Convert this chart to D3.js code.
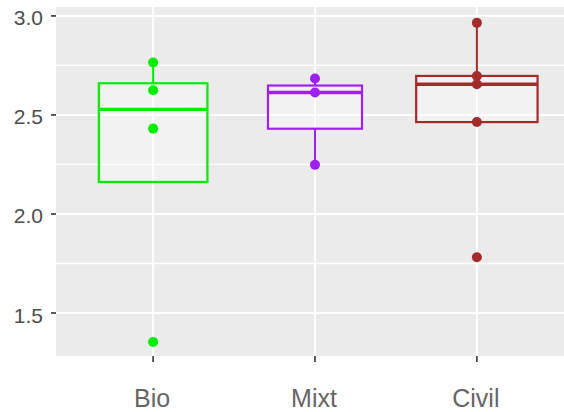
<!DOCTYPE html>
<html><head><meta charset="utf-8">
<script src="https://cdn.jsdelivr.net/npm/d3@7"></script>
<style>body{margin:0;background:#fff}svg{display:block}</style>
</head><body>
<svg id="c" width="564" height="412"></svg>
<script>
const categories = ["Bio", "Mixt", "Civil"];
const bioValues = [2.765, 2.625, 2.431, 1.354];
const mixtValues = [2.684, 2.613, 2.248];
const civilValues = [2.965, 2.697, 2.655, 2.464, 1.782];
const seriesColors = ["#00EE00", "#A020F0", "#A52A2A"];
const yTicks = [1.5, 2.0, 2.5, 3.0];
const yMinorTicks = [1.75, 2.25, 2.75];

const groups = [bioValues, mixtValues, civilValues];
const svg = d3.select("#c");
const panel = {left: 56, right: 574, top: 7, bottom: 356};

const x = d3.scalePoint().domain(categories).range([panel.left, panel.right]).padding(0.6);
const y = d3.scaleLinear().domain([1.283, 3.045]).range([panel.bottom, panel.top]);
const step = x.step();

svg.append("rect").attr("x", panel.left).attr("y", panel.top)
  .attr("width", panel.right - panel.left).attr("height", panel.bottom - panel.top)
  .attr("fill", "#EBEBEB");

const g = svg.append("g");
g.selectAll(".minor").data(yMinorTicks).join("line")
  .attr("x1", panel.left).attr("x2", panel.right)
  .attr("y1", d => y(d)).attr("y2", d => y(d))
  .attr("stroke", "#fff").attr("stroke-width", 1.3);
g.selectAll(".major").data(yTicks).join("line")
  .attr("x1", panel.left).attr("x2", panel.right)
  .attr("y1", d => y(d)).attr("y2", d => y(d))
  .attr("stroke", "#fff").attr("stroke-width", 2);
g.selectAll(".vmajor").data(categories).join("line")
  .attr("x1", d => x(d)).attr("x2", d => x(d))
  .attr("y1", panel.top).attr("y2", panel.bottom)
  .attr("stroke", "#fff").attr("stroke-width", 2);

const maxN = d3.max(groups, d => d.length);
categories.forEach((cat, i) => {
  const vals = groups[i].slice().sort(d3.ascending);
  const q1 = d3.quantile(vals, 0.25), med = d3.quantile(vals, 0.5), q3 = d3.quantile(vals, 0.75);
  const iqr = q3 - q1;
  const inside = vals.filter(v => v >= q1 - 1.5 * iqr && v <= q3 + 1.5 * iqr);
  const wLo = Math.min(d3.min(inside), q1), wHi = Math.max(d3.max(inside), q3);
  const cx = x(cat);
  const w = 0.75 * step * Math.sqrt(vals.length / maxN);
  const col = seriesColors[i];
  const bg = svg.append("g");
  bg.append("line").attr("x1", cx).attr("x2", cx).attr("y1", y(q3)).attr("y2", y(wHi))
    .attr("stroke", col).attr("stroke-width", 2);
  bg.append("line").attr("x1", cx).attr("x2", cx).attr("y1", y(q1)).attr("y2", y(wLo))
    .attr("stroke", col).attr("stroke-width", 2);
  bg.append("rect").attr("x", cx - w / 2).attr("y", y(q3)).attr("width", w).attr("height", y(q1) - y(q3))
    .attr("fill", "#fff").attr("fill-opacity", 0.35).attr("stroke", col).attr("stroke-width", 2.2);
  bg.append("line").attr("x1", cx - w / 2).attr("x2", cx + w / 2).attr("y1", y(med)).attr("y2", y(med))
    .attr("stroke", col).attr("stroke-width", 3.4);
  bg.selectAll("circle").data(vals).join("circle")
    .attr("cx", cx).attr("cy", d => y(d)).attr("r", 5).attr("fill", col);
});

// axes
const font = "'Liberation Sans', Arial, sans-serif";
const ya = svg.append("g");
ya.selectAll("line").data(yTicks).join("line")
  .attr("x1", panel.left - 5).attr("x2", panel.left)
  .attr("y1", d => y(d)).attr("y2", d => y(d))
  .attr("stroke", "#333").attr("stroke-width", 1.6);
ya.selectAll("text").data(yTicks).join("text")
  .attr("x", panel.left - 13).attr("y", d => y(d) + 2)
  .attr("text-anchor", "end").attr("dominant-baseline", "central")
  .attr("font-family", font).attr("font-size", 21).attr("fill", "#4D4D4D")
  .text(d => d3.format(".1f")(d));

const xa = svg.append("g");
xa.selectAll("line").data(categories).join("line")
  .attr("x1", d => x(d)).attr("x2", d => x(d))
  .attr("y1", panel.bottom).attr("y2", panel.bottom + 6)
  .attr("stroke", "#333").attr("stroke-width", 1.6);
xa.selectAll("text").data(categories).join("text")
  .attr("x", d => x(d) - 1).attr("y", 407)
  .attr("text-anchor", "middle")
  .attr("font-family", font).attr("font-size", 25).attr("fill", "#666")
  .text(d => d);
</script>
</body></html>
